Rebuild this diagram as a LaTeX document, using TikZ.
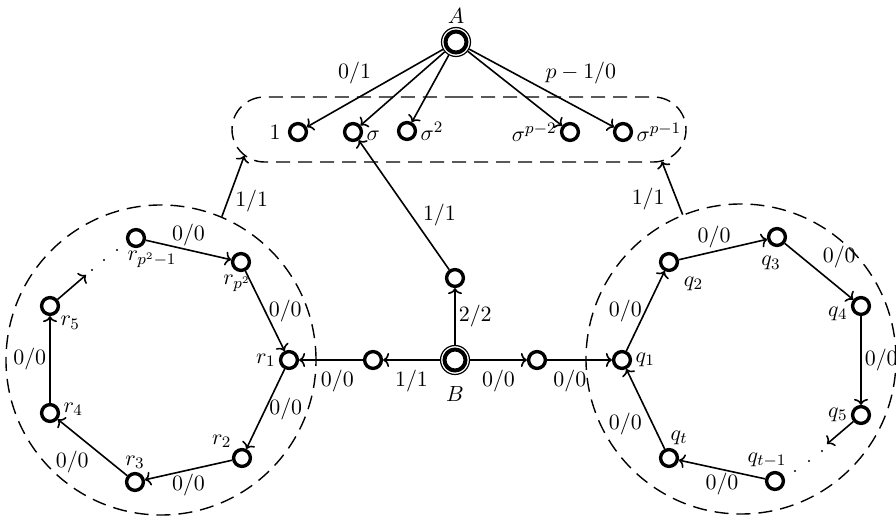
\documentclass[tikz,border=0pt]{standalone}
\usepackage{amsmath,amssymb}
\usepackage{tikz}
\usetikzlibrary{arrows.meta,positioning,shapes.misc}

\begin{document}
\begin{tikzpicture}[x=0.5pt,y=-0.5pt,>={To[length=3pt,width=7pt]},
  font=\fontsize{11}{13}\selectfont,
  every label/.style={inner sep=1.5pt},
  state/.style={circle,draw,line width=1.7pt,minimum size=8.4pt,inner sep=0pt},
  final/.style={state,line width=2pt,minimum size=10.5pt,outer sep=2.3pt},
  ring/.style={circle,draw,line width=0.7pt,dash pattern=on 7pt off 4pt,
    minimum size=155pt,inner sep=0pt},
  trans/.style={->,line width=0.8pt},
  lab/.style={inner sep=1.5pt}]
  \useasboundingbox (0,0) rectangle (896,518);

  \node[rounded rectangle,draw,line width=0.7pt,dash pattern=on 7pt off 4pt,
    minimum width=227pt,minimum height=32.5pt,inner sep=0pt] (sigmas) at (459,129.5) {};
  \node[ring] (rring) at (161,360) {};
  \node[ring] (qring) at (741,359) {};

  \node[final,label=above:$A$] (A) at (456,42) {};
  \node[final,label={[label distance=4pt]below:$B$}] (B) at (455,360) {};
  \foreach \n in {A,B} \draw[line width=0.6pt] (\n.center) circle[radius=7.25pt];

  \node[state,label={[label distance=2pt]left:$1$}] (s0) at (298,132) {};
  \node[state,label={[yshift=-2pt]right:$\sigma$}] (s1) at (353,132) {};
  \node[state,label=right:$\sigma^2$] (s2) at (407,131) {};
  \node[state,label=left:$\sigma^{p-2}$] (sp2) at (570,132) {};
  \node[state,label=right:$\sigma^{p-1}$] (sp1) at (623,132) {};

  \node[state] (bl) at (373,360) {};
  \node[state] (br) at (537,360) {};
  \node[state] (bt) at (455,278) {};

  \node[state,label=left:$r_1$] (r1) at (289,360) {};
  \node[state,label=above left:$r_2$] (r2) at (242,458) {};
  \node[state,label=above:$r_3$] (r3) at (135,482) {};
  \node[state,label={[yshift=2pt]right:$r_4$}] (r4) at (50,413) {};
  \node[state,label=below right:$r_5$] (r5) at (50,306) {};
  \node[state,label={[xshift=8pt]below:$r_{p^2-1}$}] (rp2m) at (136,238) {};
  \node[state,label={[xshift=-2pt]below:$r_{p^2}$}] (rp2) at (241,262) {};
  \coordinate (rdots) at (86,275);

  \node[state,label=right:$q_1$] (q1) at (622,360) {};
  \node[state,label={[label distance=3pt]below right:$q_2$}] (q2) at (669,262) {};
  \node[state,label={[label distance=3pt,xshift=-3pt]below:$q_3$}] (q3) at (777,237) {};
  \node[state,label={[yshift=-4pt]left:$q_4$}] (q4) at (861,306) {};
  \node[state,label=left:$q_5$] (q5) at (861,415) {};
  \node[state,label={[xshift=-4pt]above:$q_{t-1}$}] (qt1) at (775,481) {};
  \node[state,label={[xshift=5pt]above:$q_t$}] (qt) at (669,458) {};
  \coordinate (qdots) at (827,444);

  \draw[trans] (A) -- (s0) node[lab,pos=0.5,above left] {$0/1$};
  \draw[trans] (A) -- (s1);
  \draw[trans] (A) -- (s2);
  \draw[trans] (A) -- (sp2);
  \draw[trans] (A) -- (sp1) node[lab,pos=0.5,above right] {$p-1/0$};

  \draw[trans] (rp2m) -- (rp2) node[lab,midway,above] {$0/0$};
  \draw[trans] (rp2) -- (r1) node[lab,midway,right] {$0/0$};
  \draw[trans] (r1) -- (r2) node[lab,midway,right] {$0/0$};
  \draw[trans] (r2) -- (r3) node[lab,midway,below] {$0/0$};
  \draw[trans] (r3) -- (r4) node[lab,midway,below left] {$0/0$};
  \draw[trans] (r4) -- (r5) node[lab,midway,left] {$0/0$};
  \draw[trans] (r5) -- (rdots);
  \foreach \x/\y in {92/270,104/260,117/250} \fill (\x,\y) circle[radius=0.6pt];

  \draw[trans] (q1) -- (q2) node[lab,midway,left] {$0/0$};
  \draw[trans] (q2) -- (q3) node[lab,pos=0.4,above] {$0/0$};
  \draw[trans] (q3) -- (q4) node[lab,midway,above right] {$0/0$};
  \draw[trans] (q4) -- (q5) node[lab,midway,right] {$0/0$};
  \draw[trans] (q5) -- (qdots);
  \foreach \x/\y in {822/451,809/461,795/471} \fill (\x,\y) circle[radius=0.6pt];
  \draw[trans] (qt1) -- (qt) node[lab,midway,below] {$0/0$};
  \draw[trans] (qt) -- (q1) node[lab,midway,below left] {$0/0$};

  \draw[trans] (B) -- (bl) node[lab,midway,below=3pt] {$1/1$};
  \draw[trans] (bl) -- (r1) node[lab,pos=0.4,below=3pt] {$0/0$};
  \draw[trans] (B) -- (br) node[lab,midway,below=3pt] {$0/0$};
  \draw[trans] (br) -- (q1) node[lab,pos=0.35,below=3pt] {$0/0$};
  \draw[trans] (B) -- (bt) node[lab,midway,right] {$2/2$};
  \draw[trans] (bt) -- (s1) node[lab,pos=0.42,right=4pt] {$1/1$};

  \draw[trans] (rring.67) -- (sigmas.187.4) node[lab,pos=0.25,right=2pt] {$1/1$};
  \draw[trans] (qring.112) -- (sigmas.351) node[lab,pos=0.3,left=4pt] {$1/1$};
\end{tikzpicture}
\end{document}
